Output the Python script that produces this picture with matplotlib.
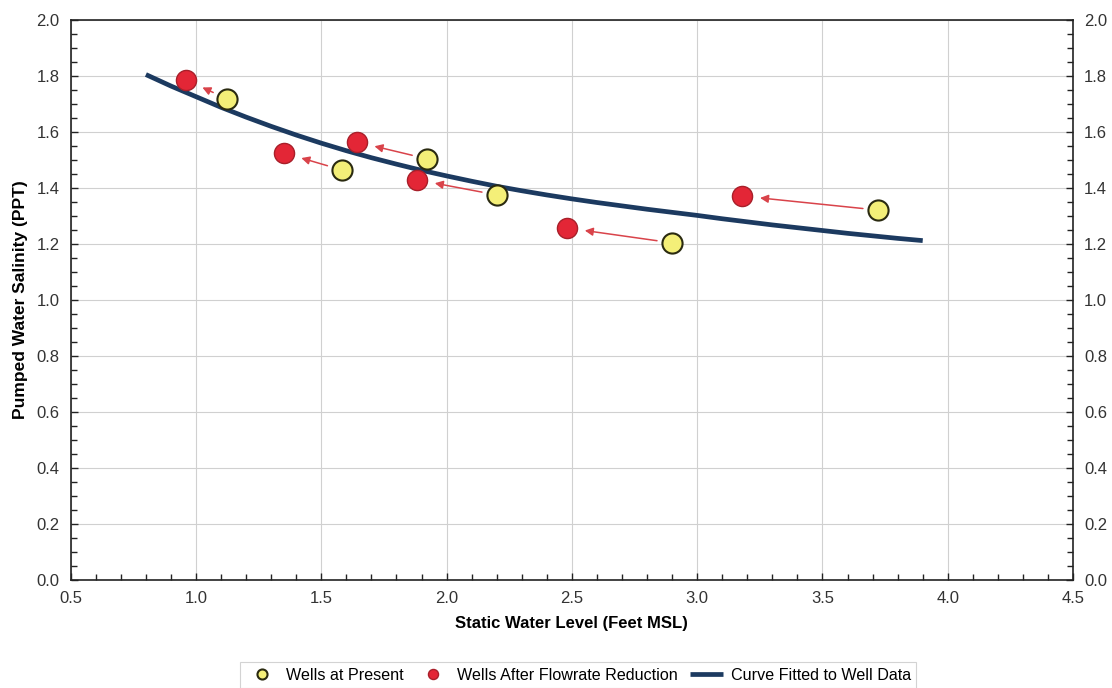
import matplotlib
matplotlib.use('Agg')
import matplotlib.pyplot as plt
from matplotlib.ticker import MultipleLocator, FormatStrFormatter

plt.rcParams['font.family'] = ['Liberation Sans', 'DejaVu Sans']

# Wells at present (yellow) and after flowrate reduction (red)
present_x = [1.124, 1.583, 1.922, 2.201, 2.900, 3.722]
present_y = [1.718, 1.464, 1.504, 1.375, 1.204, 1.321]
reduced_x = [0.960, 1.351, 1.642, 1.882, 2.480, 3.179]
reduced_y = [1.786, 1.525, 1.564, 1.429, 1.257, 1.371]

# Curve fitted to well data
curve_x = [0.80, 0.90, 1.00, 1.10, 1.20, 1.30, 1.40, 1.50, 1.60, 1.70,
           1.80, 1.90, 2.00, 2.10, 2.20, 2.30, 2.40, 2.50, 2.60, 2.70,
           2.80, 2.90, 3.00, 3.10, 3.20, 3.30, 3.40, 3.50, 3.60, 3.70,
           3.80, 3.90]
curve_y = [1.805, 1.764, 1.726, 1.688, 1.653, 1.620, 1.589, 1.560, 1.533,
           1.508, 1.485, 1.463, 1.443, 1.424, 1.406, 1.390, 1.375, 1.361,
           1.348, 1.336, 1.324, 1.313, 1.302, 1.290, 1.279, 1.268, 1.258,
           1.248, 1.238, 1.229, 1.220, 1.212]

fig = plt.figure(figsize=(11.12, 6.88), dpi=100)
ax = fig.add_axes([0.0636, 0.157, 0.9014, 0.814])

ax.plot(curve_x, curve_y, color='#1c3a60', linewidth=3.4,
        solid_capstyle='butt', solid_joinstyle='round', zorder=3,
        label='Curve Fitted to Well Data')

for x0, y0, x1, y1 in zip(present_x, present_y, reduced_x, reduced_y):
    ax.annotate('', xy=(x1, y1), xytext=(x0, y0),
                arrowprops=dict(arrowstyle='-|>', color='#d9434a', lw=1.1,
                                mutation_scale=12, shrinkA=11, shrinkB=13),
                zorder=4)

ax.plot(present_x, present_y, linestyle='none', marker='o', markersize=14.5,
        markerfacecolor='#f4ef78', markeredgecolor='#2a2a10',
        markeredgewidth=1.5, zorder=5, label='Wells at Present')
ax.plot(reduced_x, reduced_y, linestyle='none', marker='o', markersize=14.5,
        markerfacecolor='#e32636', markeredgecolor='#a8202a',
        markeredgewidth=1.0, zorder=5, label='Wells After Flowrate Reduction')

ax.set_xlim(0.5, 4.5)
ax.set_ylim(0.0, 2.0)
ax.xaxis.set_major_locator(MultipleLocator(0.5))
ax.xaxis.set_minor_locator(MultipleLocator(0.1))
ax.yaxis.set_major_locator(MultipleLocator(0.2))
ax.yaxis.set_minor_locator(MultipleLocator(0.05))
ax.xaxis.set_major_formatter(FormatStrFormatter('%.1f'))
ax.yaxis.set_major_formatter(FormatStrFormatter('%.1f'))

ax.tick_params(which='both', direction='in', left=True, right=True,
               top=False, bottom=True, labelright=True, colors='#222222',
               width=1.0)
ax.tick_params(which='major', length=5, labelsize=12, pad=8)
ax.tick_params(which='minor', length=4)
for lbl in ax.get_xticklabels() + ax.get_yticklabels():
    lbl.set_color('#333333')

ax.grid(which='major', color='#d0d0d0', linewidth=0.8)
ax.set_axisbelow(True)
for spine in ax.spines.values():
    spine.set_color('#222222')
    spine.set_linewidth(1.2)

ax.set_xlabel('Static Water Level (Feet MSL)', fontsize=12,
              fontweight='bold', labelpad=7)
ax.set_ylabel('Pumped Water Salinity (PPT)', fontsize=12.5,
              fontweight='bold', labelpad=6)

handles, labels = ax.get_legend_handles_labels()
order = [1, 2, 0]
leg = fig.legend([handles[i] for i in order], [labels[i] for i in order],
                 loc='lower center', bbox_to_anchor=(0.52, -0.012), ncol=3,
                 fontsize=11.6, frameon=True, fancybox=False, edgecolor='#c8c8c8',
                 markerscale=0.5, handlelength=2.0, handletextpad=0.5,
                 columnspacing=0.8, borderpad=0.35)
leg.get_frame().set_linewidth(0.8)

fig.savefig('out.png', dpi=100)
